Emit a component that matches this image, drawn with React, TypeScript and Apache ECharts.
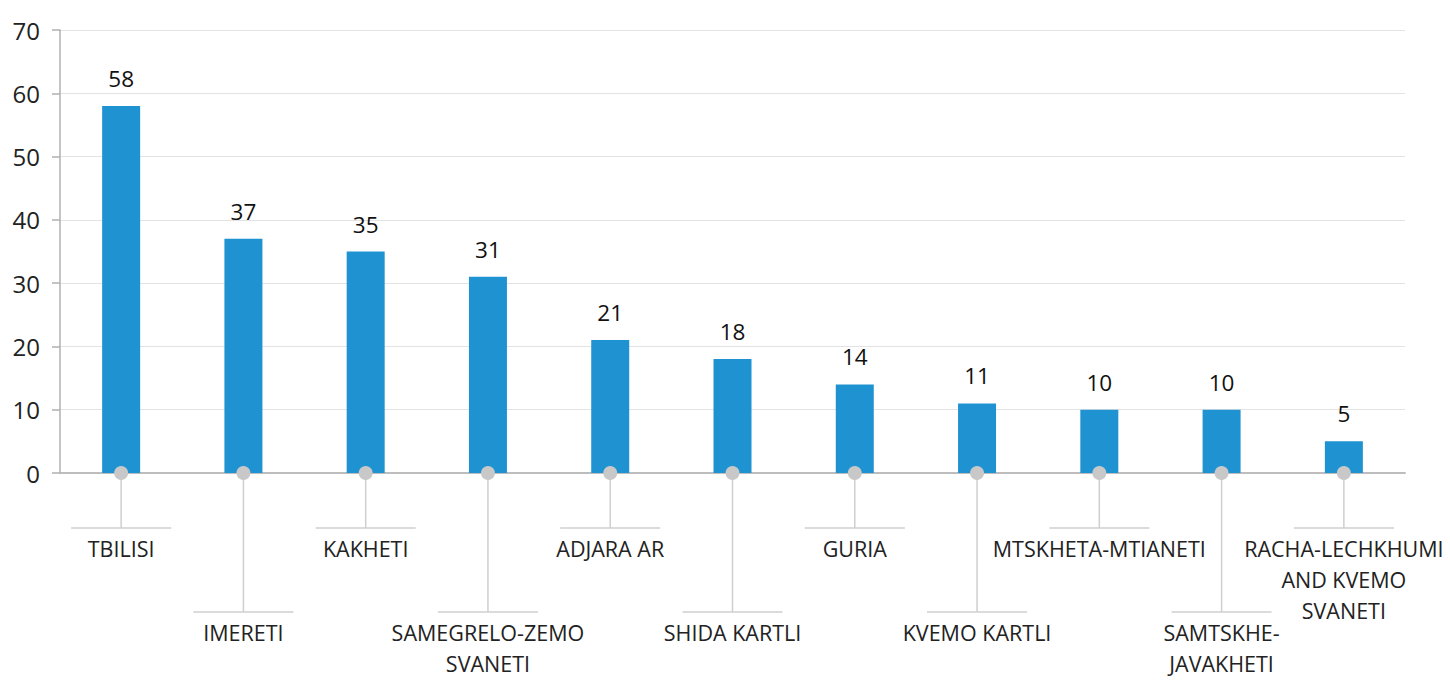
import React, { useEffect, useRef } from "react";
import * as echarts from "echarts";

const categories = [
  "TBILISI",
  "IMERETI",
  "KAKHETI",
  "SAMEGRELO-ZEMO\nSVANETI",
  "ADJARA AR",
  "SHIDA KARTLI",
  "GURIA",
  "KVEMO KARTLI",
  "MTSKHETA-MTIANETI",
  "SAMTSKHE-\nJAVAKHETI",
  "RACHA-LECHKHUMI\nAND KVEMO\nSVANETI",
];
const values = [58, 37, 35, 31, 21, 18, 14, 11, 10, 10, 5];
const yTicks = [0, 10, 20, 30, 40, 50, 60, 70];

const FONT = "'Open Sans', 'Noto Sans', sans-serif";

export default function App() {
  const ref = useRef<HTMLDivElement>(null);
  useEffect(() => {
    if (!ref.current) return;
    const chart = echarts.init(ref.current, null, { renderer: "svg" });
    chart.setOption({
      animation: false,
      backgroundColor: "#ffffff",
      grid: { left: 60, right: 45, top: 30, bottom: 209, containLabel: false },
      xAxis: {
        type: "category",
        data: categories,
        axisLine: { show: true, lineStyle: { color: "#bdbdbd", width: 2 } },
        axisTick: { show: false },
        axisLabel: { show: false },
        splitLine: { show: false },
      },
      yAxis: {
        type: "value",
        min: yTicks[0],
        max: yTicks[yTicks.length - 1],
        interval: 10,
        axisLine: { show: true, lineStyle: { color: "#b0b0b0", width: 1.5 } },
        axisTick: { show: true, length: 8, lineStyle: { color: "#b0b0b0", width: 1.5 } },
        axisLabel: { fontSize: 24, color: "#222", fontFamily: FONT, margin: 20 },
        splitLine: { show: true, lineStyle: { color: "#e3e3e3", width: 1 } },
      },
      series: [
        {
          type: "bar",
          data: values,
          barWidth: 38,
          itemStyle: { color: "#1f93d1" },
          label: {
            show: true,
            position: "top",
            distance: 16,
            fontSize: 22.5,
            color: "#111",
            fontFamily: FONT,
          },
        },
        {
          type: "custom",
          clip: false,
          z: 5,
          data: categories.map((c, i) => [i, 0]),
          renderItem: (params: any, api: any) => {
            const idx = api.value(0);
            const p = api.coord([idx, 0]);
            const long = idx % 2 === 1;
            const lineY = p[1] + (long ? 139 : 55);
            return {
              type: "group",
              children: [
                {
                  type: "line",
                  shape: { x1: p[0], y1: p[1], x2: p[0], y2: lineY },
                  style: { stroke: "#cfcfcf", lineWidth: 1.5 },
                },
                {
                  type: "line",
                  shape: { x1: p[0] - 50, y1: lineY, x2: p[0] + 50, y2: lineY },
                  style: { stroke: "#cfcfcf", lineWidth: 1.5 },
                },
                {
                  type: "circle",
                  shape: { cx: p[0], cy: p[1], r: 7 },
                  style: { fill: "#c8c8c8" },
                },
                {
                  type: "text",
                  style: {
                    text: categories[idx],
                    x: p[0],
                    y: lineY + 5,
                    textAlign: "center",
                    textVerticalAlign: "top",
                    fontSize: 21.5,
                    lineHeight: 31,
                    fontFamily: FONT,
                    fill: "#222",
                  },
                },
              ],
            };
          },
        },
      ],
    });
    return () => chart.dispose();
  }, []);
  return (
    <div
      ref={ref}
      style={{ position: "fixed", left: 0, top: 0, width: 1450, height: 682 }}
    />
  );
}
